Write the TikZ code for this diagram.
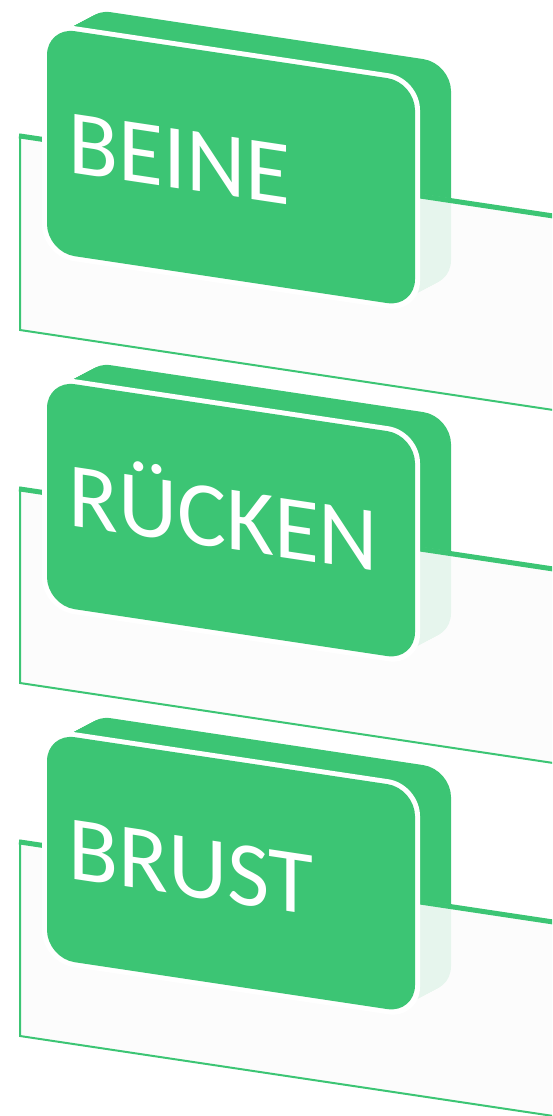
\documentclass[tikz,border=0pt]{standalone}
\usepackage{fontspec}
\setmainfont{Carlito}
\definecolor{cgreen}{RGB}{60,197,116}
\definecolor{panelfill}{RGB}{252,252,252}
\tikzset{
  cardfill/.style={fill=cgreen, rounded corners=28pt},
  halo/.style={fill=white, rounded corners=32pt},
  panelbg/.style={fill=panelfill, fill opacity=0.89},
  thinedge/.style={draw=cgreen, line width=2pt},
  thickedge/.style={draw=cgreen, line width=5pt, line cap=butt},
  cardlabel/.style={text=white, font=\fontsize{92}{92}\selectfont, inner sep=0pt, anchor=base west, transform shape}
}
\begin{document}
\begin{tikzpicture}[x=1pt,y=-1pt]
\useasboundingbox (0,0) rectangle (552,1116);
\clip (0,0) rectangle (552,1116);
\foreach \o/\txt/\nm in {0/BEINE/a, 353/RÜCKEN/b, 706/BRUST/c}{
  \begin{scope}[yslant=-0.15]
    % extruded back card
    \foreach \i in {0,...,25}{
      \pgfmathsetmacro{\t}{\i/25}
      \fill[cardfill] ({47+36*\t},{20-24.4*\t+\o}) rectangle ({415+36*\t},{245-24.4*\t+\o});
    }
    % panel
    \fill[panelbg] (20,{131+\o}) rectangle (600,{327+\o});
    \draw[thinedge] (20,{131+\o}) -- (20,{327+\o}) -- (600,{327+\o});
    \draw[thickedge] (19,{133+\o}) -- (600,{133+\o});
    % front card
    \fill[halo] (42,{15+\o}) rectangle (420,{250+\o});
    \fill[cardfill] (47,{20+\o}) rectangle (415,{245+\o});
    \node[cardlabel] (\nm) at (68,{162+\o}) {\txt};
  \end{scope}
}
\end{tikzpicture}
\end{document}
